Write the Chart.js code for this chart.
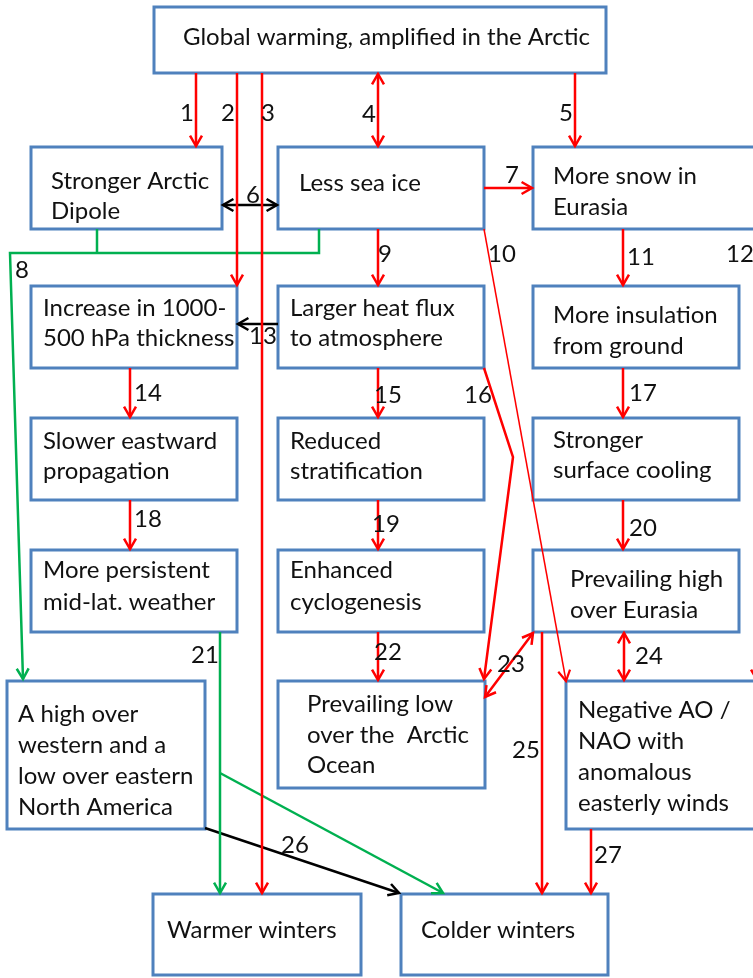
<!DOCTYPE html>
<html>
<head>
<meta charset="utf-8">
<script src="https://cdn.jsdelivr.net/npm/chart.js@4/dist/chart.umd.min.js"></script>
<style>
html,body{margin:0;padding:0;background:#fff;}
#wrap{width:753px;height:978px;}
</style>
</head>
<body>
<div id="wrap"><canvas id="c" width="753" height="978"></canvas></div>
<script>
// ---------- DATA ----------
const nodeText = [
  ['Global warming, amplified in the Arctic'],
  ['Stronger Arctic', 'Dipole'],
  ['Less sea ice'],
  ['More snow in', 'Eurasia'],
  ['Increase in 1000-', '500 hPa thickness'],
  ['Larger heat flux', 'to atmosphere'],
  ['More insulation', 'from ground'],
  ['Slower eastward', 'propagation'],
  ['Reduced', 'stratification'],
  ['Stronger', 'surface cooling'],
  ['More persistent', 'mid-lat. weather'],
  ['Enhanced', 'cyclogenesis'],
  ['Prevailing high', 'over Eurasia'],
  ['A high over', 'western and a', 'low over eastern', 'North America'],
  ['Prevailing low', 'over the  Arctic', 'Ocean'],
  ['Negative AO /', 'NAO with', 'anomalous', 'easterly winds'],
  ['Warmer winters'],
  ['Colder winters']
];
const linkLabels = ['1','2','3','4','5','6','7','8','9','10','11','12','13','14',
  '15','16','17','18','19','20','21','22','23','24','25','26','27'];
// link kind: r = red, g = green, k = black
const linkKind = ['r','r','r','r','r','k','r','g','r','r','r','r','k','r',
  'r','r','r','r','r','r','g','r','r','r','r','k','r'];

// ---------- LAYOUT (positions / sizes) ----------
const boxRect = [
  [154,7,606,73],[31,147,222,229],[278,147,484,229],[533,147,764,229],
  [31,286,237,368],[278,286,484,368],[533,286,739,368],
  [31,418,237,500],[278,418,484,500],[533,418,739,500],
  [31,550,237,632],[278,550,484,632],[533,550,739,632],
  [7,681,205,829],[278,681,485,788],[566,681,764,829],
  [153,894,361,975],[401,894,608,975]
];
const textPos = [
  [183,45,30],[51,189,30],[299,191,30],[553,184,31],
  [43,316,30],[290,316,30],[553,323,31],
  [43,449,30],[290,449,30],[553,448,30],
  [43,578,32],[290,578,32],[570,587,31],
  [18,722,31],[307,712,30.5],[578,718,31],
  [167,938,30],[421,938,30]
];
// paths: [points, width, heads('end'|'both'|'none')]
const linkPaths = [
  [[[196,73],[196,146]],2.5,'end'],
  [[[237,73],[237,285]],2.5,'end'],
  [[[262,73],[262,893]],2.5,'end'],
  [[[378,74],[378,146]],2.5,'both'],
  [[[575,73],[575,146]],2.5,'end'],
  [[[223,205],[277,205]],2.5,'both'],
  [[[484,188],[532,188]],2.5,'end'],
  [[[319,229],[319,253],[10,253],[23,679]],2.5,'end'],
  [[[378,229],[378,285]],2.5,'end'],
  [[[484,229],[566,681]],1.5,'end'],
  [[[623,229],[623,285]],2.5,'end'],
  [[[757,229],[757,680]],2.5,'end'],
  [[[278,324],[238,324]],2.5,'end'],
  [[[130,368],[130,417]],2.5,'end'],
  [[[378,368],[378,417]],2.5,'end'],
  [[[484,368],[513,457],[484,679]],2.5,'end'],
  [[[623,368],[623,417]],2.5,'end'],
  [[[130,500],[130,549]],2.5,'end'],
  [[[378,500],[378,549]],2.5,'end'],
  [[[623,500],[623,549]],2.5,'end'],
  [[[220,632],[220,893]],2.5,'end'],
  [[[378,632],[378,680]],2.5,'end'],
  [[[533,633],[485,697]],2.5,'both'],
  [[[624,633],[624,680]],2.5,'both'],
  [[[542,632],[542,893]],2.5,'end'],
  [[[205,828],[399,893]],2.5,'end'],
  [[[591,829],[591,893]],2.5,'end']
];
// extra un-numbered branches: [linkIndex, points, heads]
const branchPaths = [
  [7, [[97,229],[97,253]], 'none'],
  [20, [[220,773],[443,893]], 'end']
];
const labelPos = [
  [187,121],[228,121],[268,121],[369,122],[566,121],[253,203],[512,183],[22,278],
  [385,262],[502,262],[641,265],[740,262],[263,344],[148,401],[388,403],[478,403],
  [643,401],[148,527],[386,532],[643,536],[205,663],[388,660],[511,672],[649,664],
  [526,758],[295,853],[608,863]
];

// ---------- STYLE ----------
const COLORS = { r:'#ff0000', g:'#00b050', k:'#000000' };
const BOX_COLOR = '#4f81bd';
const FONT = '24px Lato, "Open Sans", sans-serif';

// ---------- build datasets ----------
const datasets = [];
boxRect.forEach(function(b){
  datasets.push({
    data:[{x:b[0],y:b[1]},{x:b[2],y:b[1]},{x:b[2],y:b[3]},{x:b[0],y:b[3]},{x:b[0],y:b[1]},{x:b[2],y:b[1]}],
    showLine:true, pointRadius:0, borderColor:BOX_COLOR, borderWidth:3,
    borderJoinStyle:'miter', fill:false, tension:0, order:2
  });
});
const arrowList = [];
linkPaths.forEach(function(p,i){
  const col = COLORS[linkKind[i]];
  datasets.push({
    data:p[0].map(function(q){return {x:q[0],y:q[1]};}),
    showLine:true, pointRadius:0, borderColor:col, borderWidth:p[1],
    fill:false, tension:0, order:1, borderCapStyle:'butt'
  });
  arrowList.push([p[0],col,p[1],p[2]]);
});
branchPaths.forEach(function(b){
  const col = COLORS[linkKind[b[0]]];
  const w = linkPaths[b[0]][1];
  datasets.push({
    data:b[1].map(function(q){return {x:q[0],y:q[1]};}),
    showLine:true, pointRadius:0, borderColor:col, borderWidth:w,
    fill:false, tension:0, order:1
  });
  arrowList.push([b[1],col,w,b[2]]);
});

const diagramPlugin = {
  id:'diagram',
  beforeDraw:function(chart){
    const c = chart.ctx;
    c.save(); c.fillStyle = '#fff'; c.fillRect(0,0,chart.width,chart.height); c.restore();
  },
  afterDatasetsDraw:function(chart){
    const c = chart.ctx, sx = chart.scales.x, sy = chart.scales.y;
    const X = function(v){return sx.getPixelForValue(v);};
    const Y = function(v){return sy.getPixelForValue(v);};
    function head(tip, from, col, w){
      const tx = X(tip[0]), ty = Y(tip[1]), fx = X(from[0]), fy = Y(from[1]);
      const a = Math.atan2(ty-fy, tx-fx), L = 12, s = 0.52;
      c.save();
      c.strokeStyle = col; c.lineWidth = w; c.lineJoin = 'miter'; c.lineCap = 'butt';
      c.beginPath();
      c.moveTo(tx - L*Math.cos(a-s), ty - L*Math.sin(a-s));
      c.lineTo(tx, ty);
      c.lineTo(tx - L*Math.cos(a+s), ty - L*Math.sin(a+s));
      c.stroke();
      c.restore();
    }
    arrowList.forEach(function(a){
      const pts = a[0], n = pts.length;
      if (a[3] === 'end' || a[3] === 'both') head(pts[n-1], pts[n-2], a[1], Math.max(a[2],2.2));
      if (a[3] === 'both') head(pts[0], pts[1], a[1], Math.max(a[2],2.2));
    });
    c.save();
    c.font = FONT; c.fillStyle = '#111'; c.textBaseline = 'alphabetic';
    c.textAlign = 'left';
    nodeText.forEach(function(lines,i){
      const t = textPos[i];
      lines.forEach(function(s,j){
        c.fillText(s, X(t[0]), Y(t[1] + j*t[2]));
      });
    });
    c.textAlign = 'center';
    linkLabels.forEach(function(s,i){
      const p = labelPos[i];
      c.fillText(s, X(p[0]), Y(p[1]));
    });
    c.restore();
  }
};

new Chart(document.getElementById('c'), {
  type:'scatter',
  data:{ datasets:datasets },
  options:{
    responsive:false, animation:false, devicePixelRatio:1,
    layout:{ padding:0 },
    plugins:{ legend:{display:false}, tooltip:{enabled:false} },
    scales:{
      x:{ type:'linear', min:0, max:753, display:false },
      y:{ type:'linear', min:0, max:978, reverse:true, display:false }
    }
  },
  plugins:[diagramPlugin]
});
</script>
</body>
</html>
